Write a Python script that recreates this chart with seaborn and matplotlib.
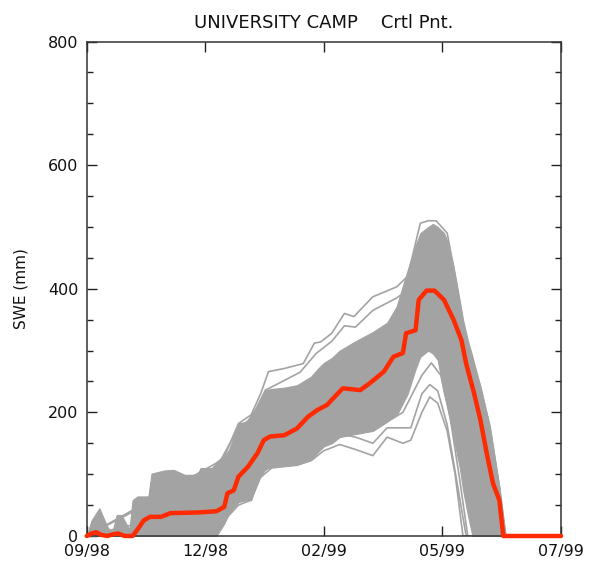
import numpy as np
import pandas as pd
import matplotlib
matplotlib.use("Agg")
import matplotlib.pyplot as plt
import matplotlib.dates as mdates
from matplotlib.ticker import MultipleLocator
import seaborn as sns

# ---------------------------------------------------------------------------
# Data: snow water equivalent (mm) vs. days since season start
# ---------------------------------------------------------------------------
season_start = "1998-09-20"
season_days = 300
tick_step_days = 75
tick_labels = ["09/98", "12/98", "02/99", "05/99", "07/99"]

# Control-point simulation (red)
ctrl_days = [0, 3, 6, 9, 13, 17, 20, 24, 29, 32, 36, 40, 47, 53, 70, 82, 87,
             89, 93, 96, 102, 108, 112, 116, 125, 133, 140, 146, 152, 156,
             162, 173, 179, 188, 194, 200, 202, 208, 210, 215, 220, 226, 232,
             237, 240, 245, 249, 253, 257, 261, 263.5, 300]
ctrl_swe = [0, 4, 6, 2, 0, 3, 4, 0, 0, 10, 25, 31, 31, 37, 38, 40, 47,
            69, 74, 96, 112, 134, 155, 161, 163, 174, 193, 204, 212, 223,
            239, 236, 247, 266, 290, 296, 328, 333, 382, 397, 397, 382, 350,
            317, 279, 231, 188, 134, 85, 58, 0, 0]

# Dense core of the ensemble (upper / lower bounds)
core_days = [0, 3, 8, 13, 16, 19, 22, 27, 29, 32, 39, 41, 49, 55, 62, 70, 72,
             79, 82, 87, 90, 96, 101, 104, 108, 113, 117, 125, 133, 142, 146,
             150, 155, 160, 170, 181, 190, 196, 203, 208, 211, 216, 219, 222,
             226, 228, 232, 236, 238, 241, 244, 245, 249, 255, 261, 265]
core_high = [0, 25, 45, 15, 5, 34, 34, 10, 58, 64, 64, 101, 106, 107, 99, 99,
             110, 110, 118, 128, 140, 182, 185, 196, 210, 236, 238, 240, 244,
             258, 270, 280, 288, 300, 315, 330, 345, 371, 430, 470, 490, 500,
             505, 500, 490, 478, 436, 380, 350, 317, 290, 280, 242, 177, 80, 0]
core_low = [0, 0, 0, 0, 0, 0, 0, 0, 0, 0, 0, 0, 0, 0, 0, 0, 0,
            0, 0, 20, 37, 55, 58, 58, 90, 108, 112, 113, 115, 123, 135,
            145, 150, 160, 165, 170, 185, 195, 230, 270, 290, 300,
            295, 285, 230, 210, 160, 110, 75, 35, 0, 0, 0, 0, 0, 0]

# Individual ensemble members outside the core
m1_days = [0, 40, 60, 80, 87, 96, 104, 110, 117, 133, 142, 150, 160, 170, 181,
           190, 200, 205, 212, 217, 222, 228, 233, 238, 300]
m1_swe = [0, 18, 22, 12, 25, 50, 58, 95, 110, 115, 122, 138, 148, 140, 130,
          160, 150, 155, 200, 225, 215, 170, 100, 0, 0]
m2_days = [0, 40, 60, 80, 87, 96, 104, 110, 117, 133, 142, 150, 160, 170, 181,
           190, 205, 212, 217, 222, 228, 234, 240, 300]
m2_swe = [0, 25, 28, 20, 30, 55, 62, 100, 115, 120, 130, 150, 165, 160, 150,
          175, 175, 230, 245, 235, 180, 90, 0, 0]
m3_days = [0, 82, 90, 100, 110, 120, 133, 145, 160, 170, 181, 190, 200, 212,
           218, 224, 230, 236, 241, 300]
m3_swe = [0, 10, 45, 65, 105, 118, 125, 145, 175, 172, 170, 185, 200, 260,
          280, 260, 190, 90, 0, 0]
m4_days = [0, 82, 87, 96, 104, 110, 115, 125, 137, 144, 148, 155, 163, 169,
           181, 196, 203, 211, 216, 221, 228, 232, 240, 249, 255, 261, 265, 300]
m4_swe = [0, 118, 128, 182, 196, 230, 266, 271, 279, 312, 314, 328, 360, 355,
          387, 403, 420, 506, 510, 510, 490, 436, 317, 242, 177, 80, 0, 0]
m5_days = [0, 82, 96, 104, 113, 120, 135, 145, 155, 163, 170, 181, 196, 204,
           210, 218, 224, 230, 240, 250, 256, 262, 265, 300]
m5_swe = [0, 110, 175, 190, 236, 245, 265, 295, 315, 340, 338, 365, 385, 400,
          470, 495, 480, 420, 300, 220, 150, 50, 0, 0]

members = {
    "m1": (m1_days, m1_swe),
    "m2": (m2_days, m2_swe),
    "m3": (m3_days, m3_swe),
    "m4": (m4_days, m4_swe),
    "m5": (m5_days, m5_swe),
}

title = "UNIVERSITY CAMP    Crtl Pnt."
ylabel = "SWE (mm)"

# ---------------------------------------------------------------------------
t0 = pd.Timestamp(season_start)


def to_dates(days):
    return t0 + pd.to_timedelta(np.asarray(days, dtype=float), unit="D")


ens = pd.concat(
    [pd.DataFrame({"date": to_dates(d), "swe": v, "member": k})
     for k, (d, v) in members.items()],
    ignore_index=True,
)

sns.set_style("ticks")
plt.rcParams["font.family"] = ["DejaVu Sans"]

gray = "#a3a3a3"
red = "#ff2a00"

fig = plt.figure(figsize=(5.94, 5.67), dpi=100)
ax = fig.add_axes([86.7 / 594, 31 / 567, (561 - 86.7) / 594, (536 - 41.5) / 567])

ax.fill_between(to_dates(core_days), core_low, core_high,
                color=gray, linewidth=0.8, edgecolor=gray, zorder=1)
sns.lineplot(data=ens, x="date", y="swe", units="member", estimator=None,
             color=gray, linewidth=1.2, ax=ax, zorder=2, legend=False)
sns.lineplot(x=to_dates(ctrl_days), y=ctrl_swe, color=red, linewidth=3.2,
             ax=ax, zorder=3, clip_on=False)

ax.set_xlim(t0, t0 + pd.Timedelta(days=season_days))
ax.set_ylim(0, 800)
ax.set_xticks(to_dates(np.arange(0, season_days + 1, tick_step_days)))
ax.set_xticklabels(tick_labels)
ax.yaxis.set_major_locator(MultipleLocator(200))
ax.yaxis.set_minor_locator(MultipleLocator(50))

ax.tick_params(axis="both", which="major", direction="in", length=7,
               width=1, color="#222222", labelsize=11.5, pad=6,
               labelcolor="#111111")
ax.tick_params(axis="x", which="both", top=True)
ax.tick_params(axis="y", which="both", right=True)
ax.tick_params(axis="y", which="minor", direction="in", length=4.5, width=1,
               color="#222222")
for s in ax.spines.values():
    s.set_linewidth(1.1)
    s.set_color("#333333")
    s.set_visible(True)

ax.set_xlabel("")
ax.set_ylabel(ylabel, fontsize=11, labelpad=14, color="#111111")
ax.set_title(title, fontsize=13, pad=10, color="#111111")

fig.savefig("out.png", dpi=100)
